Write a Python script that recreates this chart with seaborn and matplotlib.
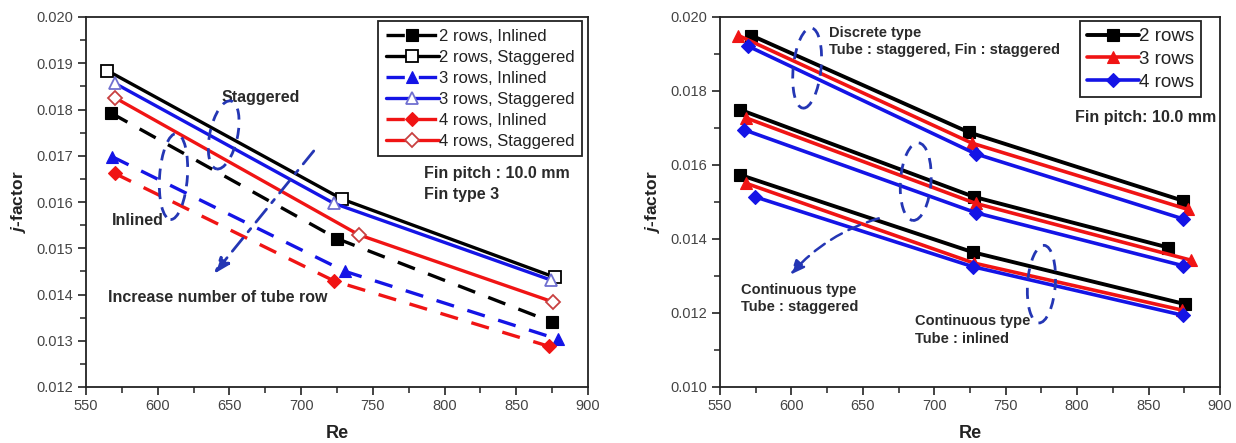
import numpy as np
import pandas as pd
import matplotlib
matplotlib.use("Agg")
import matplotlib.pyplot as plt
import matplotlib.transforms as mtrans
from matplotlib.patches import Ellipse
from matplotlib.ticker import MultipleLocator, FormatStrFormatter
import seaborn as sns

# ---------------- data: left panel (Fin type 3) ----------------
re_l_2i = [567.7, 724.9, 875.2]
j_l_2i = [0.01792, 0.01521, 0.01340]
re_l_2s = [564.9, 728.7, 877.1]
j_l_2s = [0.01884, 0.01606, 0.01437]
re_l_3i = [568.2, 730.6, 879.3]
j_l_3i = [0.01698, 0.01450, 0.01303]
re_l_3s = [569.9, 722.9, 874.4]
j_l_3s = [0.01857, 0.01597, 0.01431]
re_l_4i = [569.9, 723.2, 872.7]
j_l_4i = [0.01662, 0.01429, 0.01288]
re_l_4s = [570.4, 740.3, 875.5]
j_l_4s = [0.01825, 0.01529, 0.01384]

left_labels = ["2 rows, Inlined", "2 rows, Staggered", "3 rows, Inlined",
               "3 rows, Staggered", "4 rows, Inlined", "4 rows, Staggered"]

# ---------------- data: right panel ----------------
# discrete type (tube staggered, fin staggered)
re_d_2 = [572.0, 724.4, 874.4]
j_d_2 = [0.01950, 0.01688, 0.01503]
re_d_3 = [562.9, 726.4, 877.5]
j_d_3 = [0.01950, 0.01659, 0.01480]
re_d_4 = [569.8, 729.1, 874.4]
j_d_4 = [0.01921, 0.01630, 0.01454]
# continuous type, tube staggered
re_cs_2 = [564.3, 727.7, 863.7]
j_cs_2 = [0.01749, 0.01514, 0.01377]
re_cs_3 = [568.4, 729.1, 879.4]
j_cs_3 = [0.01727, 0.01496, 0.01343]
re_cs_4 = [567.0, 729.1, 873.9]
j_cs_4 = [0.01695, 0.01471, 0.01328]
# continuous type, tube inlined
re_ci_2 = [564.3, 727.2, 875.5]
j_ci_2 = [0.01573, 0.01364, 0.01224]
re_ci_3 = [567.9, 727.7, 873.3]
j_ci_3 = [0.01551, 0.01335, 0.01208]
re_ci_4 = [574.5, 727.2, 873.9]
j_ci_4 = [0.01514, 0.01325, 0.01194]

right_labels = ["2 rows", "3 rows", "4 rows"]

# ---------------- style ----------------
sns.set_theme(style="white")
plt.rcParams["font.family"] = ["Liberation Sans", "DejaVu Sans"]
plt.rcParams["mathtext.fontset"] = "custom"
plt.rcParams["mathtext.it"] = "Liberation Sans:italic:bold"
plt.rcParams["mathtext.rm"] = "Liberation Sans:bold"

BLACK = "#000000"
BLUE = "#1414e6"
RED = "#f01414"
DRED = "#c84040"
ANN = "#2a2a2a"
ELL = "#2436b4"

fig = plt.figure(figsize=(12.36, 4.43), dpi=100)
axL = fig.add_axes([86/1236, 1-387/443, (588-86)/1236, (387-17)/443])
axR = fig.add_axes([720/1236, 1-387/443, (1220-720)/1236, (387-17)/443])


def draw(ax, re, j, color, marker, ms, filled, dashed, label, mec=None, lw=2.4):
    df = pd.DataFrame({"Re": re, "j": j})
    kw = dict(color=color, marker=marker, markersize=ms, linewidth=lw,
              markeredgewidth=1.3 if not filled else 0.8,
              markeredgecolor=mec if mec else color,
              markerfacecolor=color if filled else "white",
              label=label)
    if dashed:
        kw["linestyle"] = (0, (5.5, 4.2))
    sns.lineplot(data=df, x="Re", y="j", ax=ax, estimator=None, sort=False,
                 legend=False, **kw)


# ---- left panel ----
draw(axL, re_l_2i, j_l_2i, BLACK, "s", 8, True, True, left_labels[0])
draw(axL, re_l_2s, j_l_2s, BLACK, "s", 8, False, False, left_labels[1])
draw(axL, re_l_3i, j_l_3i, BLUE, "^", 9, True, True, left_labels[2])
draw(axL, re_l_3s, j_l_3s, BLUE, "^", 9, False, False, left_labels[3], mec="#7070d0")
draw(axL, re_l_4i, j_l_4i, RED, "D", 7, True, True, left_labels[4])
draw(axL, re_l_4s, j_l_4s, RED, "D", 7, False, False, left_labels[5], mec=DRED)

# ---- right panel ----
groups = [(re_d_2, j_d_2, re_d_3, j_d_3, re_d_4, j_d_4),
          (re_cs_2, j_cs_2, re_cs_3, j_cs_3, re_cs_4, j_cs_4),
          (re_ci_2, j_ci_2, re_ci_3, j_ci_3, re_ci_4, j_ci_4)]
for gi, g in enumerate(groups):
    draw(axR, g[0], g[1], BLACK, "s", 8, True, False,
         right_labels[0] if gi == 0 else "_nolegend_", lw=2.8)
    draw(axR, g[2], g[3], RED, "^", 9, True, False,
         right_labels[1] if gi == 0 else "_nolegend_", lw=2.6)
    draw(axR, g[4], g[5], BLUE, "D", 7, True, False,
         right_labels[2] if gi == 0 else "_nolegend_", lw=2.6)

# ---- axes formatting ----
for ax, ylo, yminor in [(axL, 0.012, 0.0005), (axR, 0.010, 0.001)]:
    ax.set_xlim(550, 900)
    ax.set_ylim(ylo, 0.020)
    ax.xaxis.set_major_locator(MultipleLocator(50))
    ax.xaxis.set_minor_locator(MultipleLocator(25))
    ax.yaxis.set_major_locator(MultipleLocator(0.001 if ax is axL else 0.002))
    ax.yaxis.set_minor_locator(MultipleLocator(yminor))
    ax.yaxis.set_major_formatter(FormatStrFormatter("%.3f"))
    ax.tick_params(axis="both", which="major", direction="out", length=6,
                   width=1.2, color="#222222", labelsize=10.5,
                   labelcolor="#444444", pad=3, bottom=True, left=True)
    ax.tick_params(axis="both", which="minor", direction="out", length=4,
                   width=1.1, color="#222222", bottom=True, left=True)
    for s in ax.spines.values():
        s.set_visible(True)
        s.set_color("#222222")
        s.set_linewidth(1.3)
    ax.set_xlabel("Re", fontsize=13, fontweight="bold", color="#222222", labelpad=8)
    ax.set_ylabel(r"$\mathit{j}$-factor", fontsize=12.5, fontweight="bold",
                  color="#222222", labelpad=6)
    ax.grid(False)

# ---- legends ----
h, l = axL.get_legend_handles_labels()
legL = axL.legend(h, l, loc="upper right", bbox_to_anchor=(0.988, 0.988),
                  fontsize=12, frameon=True, fancybox=False, framealpha=1,
                  edgecolor="#222222", handlelength=3.2, handletextpad=0.0,
                  labelspacing=0.36, borderpad=0.45, borderaxespad=0.0,
                  numpoints=1)
legL.get_frame().set_linewidth(1.3)
for t in legL.get_texts():
    t.set_color("#222222")

h, l = axR.get_legend_handles_labels()
legR = axR.legend(h, l, loc="upper right", bbox_to_anchor=(0.962, 0.988),
                  fontsize=13.5, frameon=True, fancybox=False, framealpha=1,
                  edgecolor="#222222", handlelength=2.8, handletextpad=0.0,
                  labelspacing=0.3, borderpad=0.35, borderaxespad=0.0,
                  numpoints=1)
legR.get_frame().set_linewidth(1.3)
for t in legR.get_texts():
    t.set_color("#222222")

# ---- annotations: left ----
tk = dict(fontsize=11.5, fontweight="bold", color=ANN)
axL.text(672, 0.01827, "Staggered", ha="center", va="center", **tk)
axL.text(586.4, 0.01560, "Inlined", ha="center", va="center", **tk)
axL.text(565.5, 0.01393, "Increase number of tube row", ha="left", va="center", **tk)
axL.text(785.5, 0.01661, "Fin pitch : 10.0 mm", ha="left", va="center", **tk)
axL.text(785.5, 0.01617, "Fin type 3", ha="left", va="center", **tk)


def ellipse(ax, x, y, w_pt, h_pt, angle):
    tr = mtrans.Affine2D().scale(fig.dpi / 72.0) + mtrans.ScaledTranslation(x, y, ax.transData)
    e = Ellipse((0, 0), w_pt, h_pt, angle=angle, transform=tr, fill=False,
                edgecolor=ELL, linewidth=2.0, linestyle=(0, (4, 3)))
    fig.add_artist(e)


ellipse(axL, 646, 0.01745, 20, 50, -12)
ellipse(axL, 611, 0.01655, 20, 62, -4)
axL.annotate("", xy=(638, 0.01440), xytext=(710, 0.01715),
             arrowprops=dict(arrowstyle="-|>,head_length=0.8,head_width=0.3",
                             color=ELL, lw=2.0, linestyle=(0, (6, 3, 1.5, 3))))

# ---- annotations: right ----
tk2 = dict(fontsize=10.5, fontweight="bold", color=ANN)
axR.text(626.0, 0.01957, "Discrete type", ha="left", va="center", **tk2)
axR.text(626.0, 0.01910, "Tube : staggered, Fin : staggered", ha="left", va="center", **tk2)
axR.text(798.6, 0.01729, "Fin pitch: 10.0 mm", ha="left", va="center", fontsize=11.5,
         fontweight="bold", color=ANN)
axR.text(565.0, 0.01262, "Continuous type", ha="left", va="center", **tk2)
axR.text(565.0, 0.01215, "Tube : staggered", ha="left", va="center", **tk2)
axR.text(686.5, 0.01179, "Continuous type", ha="left", va="center", **tk2)
axR.text(686.5, 0.01131, "Tube : inlined", ha="left", va="center", **tk2)

ellipse(axR, 611, 0.01862, 20, 58, -6)
ellipse(axR, 687, 0.01555, 22, 56, -4)
ellipse(axR, 775, 0.01278, 20, 56, -4)
axR.annotate("", xy=(598, 0.01298), xytext=(663, 0.01458),
             arrowprops=dict(arrowstyle="-|>,head_length=0.7,head_width=0.3",
                             color=ELL, lw=1.8, linestyle=(0, (5, 3)),
                             connectionstyle="arc3,rad=0.15"))

fig.savefig("out.png", dpi=100)
